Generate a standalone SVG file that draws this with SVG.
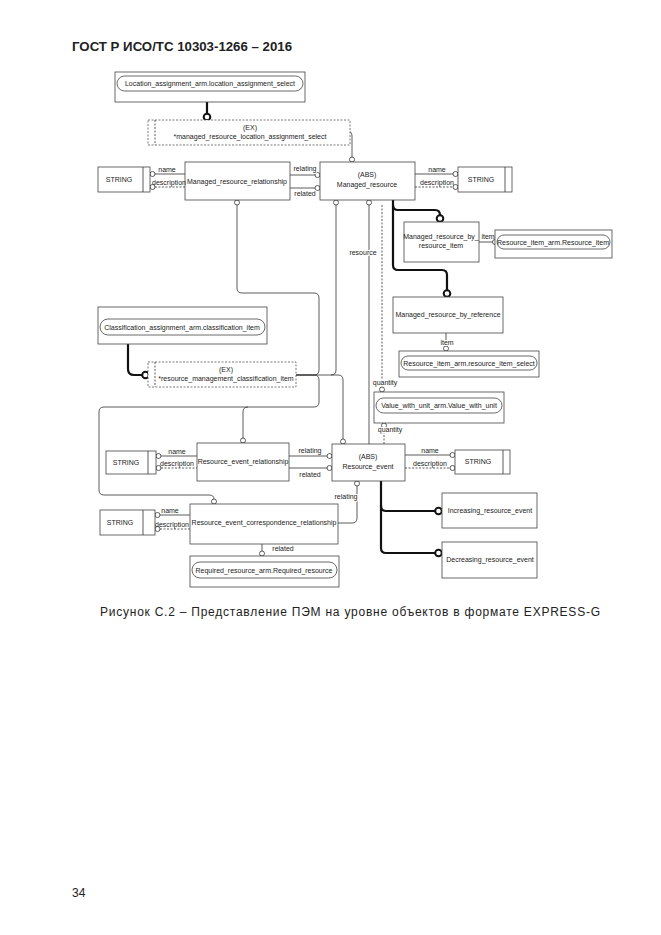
<svg xmlns="http://www.w3.org/2000/svg" width="661" height="935" viewBox="0 0 661 935">
<style>
text{font-family:"Liberation Sans",Arial,sans-serif;fill:#222}
.t{font-size:7px}
.c{text-anchor:middle}
.box{fill:#fff;stroke:#444;stroke-width:0.8}
.pill{fill:#fff;stroke:#444;stroke-width:0.8}
.ex{fill:#fff;stroke:#555;stroke-width:0.8;stroke-dasharray:2,1.5}
.ln{fill:none;stroke:#333;stroke-width:0.8}
.dl{fill:none;stroke:#333;stroke-width:0.8;stroke-dasharray:2,1.5}
.tk{fill:none;stroke:#111;stroke-width:2.2}
.o{fill:#fff;stroke:#333;stroke-width:0.8}
.ok{fill:#fff;stroke:#111;stroke-width:2}
.lbl{paint-order:stroke;stroke:#fff;stroke-width:2}
</style>
<rect width="661" height="935" fill="#fff"/>
<text x="72" y="51" font-size="13" font-weight="bold" textLength="220" lengthAdjust="spacingAndGlyphs">ГОСТ Р ИСО/ТС 10303-1266 – 2016</text>

<g id="connectors">
<path class="tk" d="M207,102 V114"/><circle class="ok" cx="207" cy="117" r="3.3"/>
<path class="ln" d="M350,131 H347 Q352,131 352,136 V157"/><circle class="o" cx="352" cy="159.5" r="2.5"/>
<path class="ln" d="M290,175 H315"/><circle class="o" cx="317.5" cy="175" r="2.5"/>
<path class="ln" d="M290,188 H315"/><circle class="o" cx="317.5" cy="188" r="2.5"/>
<path class="ln" d="M155,174 H185"/><circle class="o" cx="152.5" cy="174" r="2.5"/>
<path class="dl" d="M155,187 H185"/><circle class="o" cx="152.5" cy="187" r="2.5"/>
<path class="ln" d="M415,174 H453"/><circle class="o" cx="455.5" cy="174" r="2.5"/>
<path class="dl" d="M415,187 H453"/><circle class="o" cx="455.5" cy="187" r="2.5"/>
<path class="tk" d="M393,200 V205 Q393,210 398,210 H435 Q440,210 440,215"/><circle class="ok" cx="440" cy="218.5" r="3.3"/>
<path class="tk" d="M393,205 V265 Q393,270 398,270 H442 Q447,270 447,275 V290"/><circle class="ok" cx="447" cy="293.5" r="3.3"/>
<path class="ln" d="M479,242 H493"/><circle class="o" cx="495" cy="242" r="2.5"/>
<path class="dl" d="M382,205 V387"/><circle class="o" cx="382" cy="389.5" r="2.5"/>
<path class="ln" d="M369,205 V444"/><circle class="o" cx="369" cy="202.5" r="2.5"/>
<path class="ln" d="M446,333 V346"/><circle class="o" cx="446" cy="348.5" r="2.5"/>
<path class="dl" d="M384,428 V444"/><circle class="o" cx="384" cy="425.5" r="2.5"/>
<path class="tk" d="M128,344 V369 Q128,375 134,375 H142"/><circle class="ok" cx="145.5" cy="375" r="3.3"/>
<path class="ln" d="M296,375 H314 Q319,375 319,370 V298 Q319,293 314,293 H242 Q237,293 237,288 V205"/><circle class="o" cx="237" cy="202.5" r="2.5"/>
<path class="ln" d="M296,375 H314 Q319,375 319,380 V402 Q319,407 314,407 H104 Q99,407 99,412 V490 Q99,495 104,495 H209 Q214,495 214,499"/><circle class="o" cx="214" cy="501.5" r="2.5"/>
<path class="ln" d="M296,375 H331 Q336,375 336,370 V205"/><circle class="o" cx="336" cy="202.5" r="2.5"/>
<path class="ln" d="M331,375 H338 Q343,375 343,380 V439"/><circle class="o" cx="343" cy="441.5" r="2.5"/>
<path class="ln" d="M248,407 Q243,407 243,412 V438"/><circle class="o" cx="243" cy="440.5" r="2.5"/>
<path class="ln" d="M289,456 H327"/><circle class="o" cx="329.5" cy="456" r="2.5"/>
<path class="ln" d="M289,468 H327"/><circle class="o" cx="329.5" cy="468" r="2.5"/>
<path class="ln" d="M161,456 H197"/><circle class="o" cx="158.5" cy="456" r="2.5"/>
<path class="dl" d="M161,468 H197"/><circle class="o" cx="158.5" cy="468" r="2.5"/>
<path class="ln" d="M405,455 H450"/><circle class="o" cx="452.5" cy="455" r="2.5"/>
<path class="dl" d="M405,468 H450"/><circle class="o" cx="452.5" cy="468" r="2.5"/>
<path class="ln" d="M338,523 H352 Q357,523 357,518 V486"/><circle class="o" cx="357" cy="483.5" r="2.5"/>
<path class="ln" d="M160,515 H190"/><circle class="o" cx="157.5" cy="515" r="2.5"/>
<path class="dl" d="M160,529 H190"/><circle class="o" cx="157.5" cy="529" r="2.5"/>
<path class="ln" d="M262,544 V551"/><circle class="o" cx="262" cy="553.5" r="2.5"/>
<path class="tk" d="M381,481 V506 Q381,511 386,511 H435"/><circle class="ok" cx="438.5" cy="511" r="3.3"/>
<path class="tk" d="M381,505 V548 Q381,553 386,553 H435"/><circle class="ok" cx="438.5" cy="553" r="3.3"/>
</g>

<g id="location_select">
<rect class="box" x="115" y="72" width="190" height="30"/>
<rect class="pill" x="117" y="76" width="186" height="15" rx="7.5"/>
<text class="t c" x="210" y="86">Location_assignment_arm.location_assignment_select</text>
</g>
<g id="ex_location">
<rect class="ex" x="148" y="120" width="202" height="25"/>
<line class="dl" x1="155" y1="120" x2="155" y2="145"/>
<text class="t c" x="250" y="130">(EX)</text>
<text class="t c" x="250" y="139">*managed_resource_location_assignment_select</text>
</g>
<g id="string1">
<rect class="box" x="98" y="167" width="52" height="25"/>
<line class="ln" x1="143" y1="167" x2="143" y2="192"/>
<text class="t c" x="119" y="182">STRING</text>
</g>
<g id="managed_resource_relationship">
<rect class="box" x="185" y="162" width="105" height="38"/>
<text class="t c" x="237" y="184">Managed_resource_relationship</text>
</g>
<g id="managed_resource">
<rect class="box" x="320" y="162" width="95" height="38"/>
<text class="t c" x="367" y="177">(ABS)</text>
<text class="t c" x="367" y="187">Managed_resource</text>
</g>
<g id="string2">
<rect class="box" x="458" y="167" width="54" height="25"/>
<line class="ln" x1="505" y1="167" x2="505" y2="192"/>
<text class="t c" x="481" y="182">STRING</text>
</g>
<g id="mr_by_resource_item">
<rect class="box" x="404" y="222" width="75" height="40"/>
<text class="t c" x="441" y="239">Managed_resource_by_</text>
<text class="t c" x="441" y="248">resource_item</text>
</g>
<g id="resource_item">
<rect class="box" x="495" y="230" width="117" height="28"/>
<rect class="pill" x="497" y="235" width="113" height="14" rx="7"/>
<text class="t c" x="553" y="244.5">Resource_item_arm.Resource_item</text>
</g>
<g id="mr_by_reference">
<rect class="box" x="393" y="297" width="110" height="36"/>
<text class="t c" x="448" y="317">Managed_resource_by_reference</text>
</g>
<g id="resource_item_select">
<rect class="box" x="399" y="351" width="140" height="26"/>
<rect class="pill" x="401" y="356" width="136" height="14" rx="7"/>
<text class="t c" x="469" y="365.5">Resource_item_arm.resource_item_select</text>
</g>
<g id="value_with_unit">
<rect class="box" x="374" y="392" width="130" height="31"/>
<rect class="pill" x="376" y="398" width="126" height="15" rx="7.5"/>
<text class="t c" x="439" y="408">Value_with_unit_arm.Value_with_unit</text>
</g>
<g id="classification_item">
<rect class="box" x="98" y="307" width="169" height="37"/>
<rect class="pill" x="100" y="319" width="165" height="16" rx="8"/>
<text class="t c" x="182" y="330">Classification_assignment_arm.classification_item</text>
</g>
<g id="ex_classification">
<rect class="ex" x="148" y="362" width="148" height="25"/>
<line class="dl" x1="155" y1="362" x2="155" y2="387"/>
<text class="t c" x="226" y="372">(EX)</text>
<text class="t c" x="226" y="381">*resource_management_classification_item</text>
</g>
<g id="string3">
<rect class="box" x="106" y="451" width="50" height="23"/>
<line class="ln" x1="148" y1="451" x2="148" y2="474"/>
<text class="t c" x="126" y="465">STRING</text>
</g>
<g id="resource_event_relationship">
<rect class="box" x="197" y="443" width="92" height="38"/>
<text class="t c" x="243" y="464">Resource_event_relationship</text>
</g>
<g id="resource_event">
<rect class="box" x="332" y="444" width="73" height="37"/>
<text class="t c" x="368" y="459">(ABS)</text>
<text class="t c" x="368" y="469">Resource_event</text>
</g>
<g id="string4">
<rect class="box" x="455" y="450" width="55" height="24"/>
<line class="ln" x1="503" y1="450" x2="503" y2="474"/>
<text class="t c" x="478" y="464">STRING</text>
</g>
<g id="string5">
<rect class="box" x="100" y="510" width="55" height="25"/>
<line class="ln" x1="143" y1="510" x2="143" y2="535"/>
<text class="t c" x="120" y="525">STRING</text>
</g>
<g id="resource_event_correspondence_relationship">
<rect class="box" x="190" y="504" width="148" height="40"/>
<text class="t c" x="264" y="525">Resource_event_correspondence_relationship</text>
</g>
<g id="required_resource">
<rect class="box" x="190" y="556" width="149" height="31"/>
<rect class="pill" x="192" y="562" width="145" height="16" rx="8"/>
<text class="t c" x="264" y="573">Required_resource_arm.Required_resource</text>
</g>
<g id="increasing_resource_event">
<rect class="box" x="442" y="493" width="95" height="35"/>
<text class="t c" x="490" y="513">Increasing_resource_event</text>
</g>
<g id="decreasing_resource_event">
<rect class="box" x="442" y="542" width="95" height="36"/>
<text class="t c" x="490" y="562">Decreasing_resource_event</text>
</g>

<g id="connector_labels">
<text class="t lbl" x="305" y="171" text-anchor="middle">relating</text>
<text class="t lbl" x="305" y="196" text-anchor="middle">related</text>
<text class="t" x="167" y="172" text-anchor="middle">name</text>
<text class="t" x="169" y="185" text-anchor="middle">description</text>
<text class="t" x="437" y="172" text-anchor="middle">name</text>
<text class="t" x="437" y="185" text-anchor="middle">description</text>
<text class="t" x="488" y="239" text-anchor="middle">item</text>
<text class="t lbl" x="363" y="255" text-anchor="middle">resource</text>
<text class="t lbl" x="447" y="345" text-anchor="middle">item</text>
<text class="t lbl" x="385" y="385" text-anchor="middle">quantity</text>
<text class="t lbl" x="390" y="432" text-anchor="middle">quantity</text>
<text class="t" x="310" y="453" text-anchor="middle">relating</text>
<text class="t" x="310" y="477" text-anchor="middle">related</text>
<text class="t" x="177" y="454" text-anchor="middle">name</text>
<text class="t" x="177" y="466" text-anchor="middle">description</text>
<text class="t" x="430" y="453" text-anchor="middle">name</text>
<text class="t" x="430" y="466" text-anchor="middle">description</text>
<text class="t lbl" x="346" y="499" text-anchor="middle">relating</text>
<text class="t" x="170" y="513" text-anchor="middle">name</text>
<text class="t" x="172" y="527" text-anchor="middle">description</text>
<text class="t" x="283" y="551" text-anchor="middle">related</text>
</g>

<text x="100" y="616" font-size="12" fill="#333" textLength="500" lengthAdjust="spacing">Рисунок С.2 –  Представление ПЭМ на уровне объектов в формате EXPRESS-G</text>
<text x="72" y="897" font-size="12">34</text>
</svg>
